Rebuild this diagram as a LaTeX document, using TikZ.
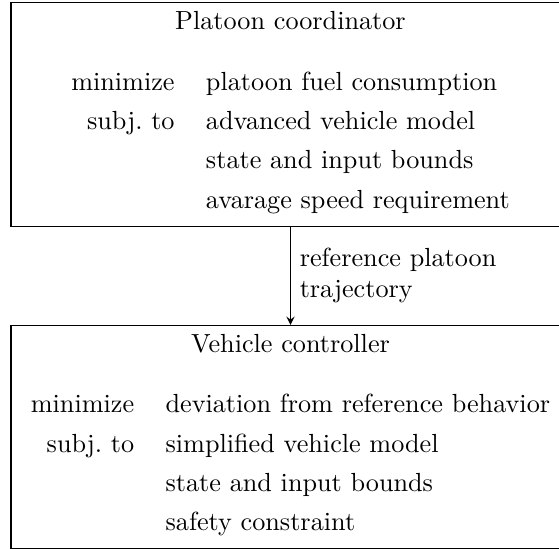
\documentclass[tikz,border=0pt]{standalone}
\usepackage{tikz}
\usetikzlibrary{positioning}

\tikzset{
	block/.style = {draw, anchor=north west, minimum width=213.4pt, inner sep=0pt},
	boxtitle/.style = {below=0pt of #1, inner sep=3.33pt},
	problem/.style = {below=22.9pt of #1, inner sep=0pt},
}
\renewcommand{\arraystretch}{1.25}

\begin{document}
\begin{tikzpicture}[x=1pt, y=1pt]
		%picture is cut on the right and at the bottom
		\useasboundingbox (0,0) rectangle (213.4,-209.5);
		
		%boxes
		\node [block, minimum height=85.3pt] (coord) at (4,-0.8) {};
		\node [block, minimum height=85.3pt] (ctrl) at (4,-124) {};
		
		%platoon coordinator
		\node [boxtitle=coord.north] (coordtitle) {Platoon coordinator};
		\node [problem=coord.north] (coordprob) {%
			\begin{tabular}{rl}
				minimize & platoon fuel consumption\\
				subj.\ to & advanced vehicle model\\
				& state and input bounds\\
				& avarage speed requirement
			\end{tabular}};
		
		%vehicle controller
		\node [boxtitle=ctrl.north] (ctrltitle) {Vehicle controller};
		\node [problem=ctrl.north] (ctrlprob) {%
			\begin{tabular}{rl}
				minimize & deviation from reference behavior\\
				subj.\ to & simplified vehicle model\\
				& state and input bounds\\
				& safety constraint
			\end{tabular}};
		
		%reference
		\draw [-stealth] (coord.south) -- (ctrl.north)
			node [midway, right, align=left] (reflabel) {reference platoon\\trajectory};
		
	\end{tikzpicture}
\end{document}
